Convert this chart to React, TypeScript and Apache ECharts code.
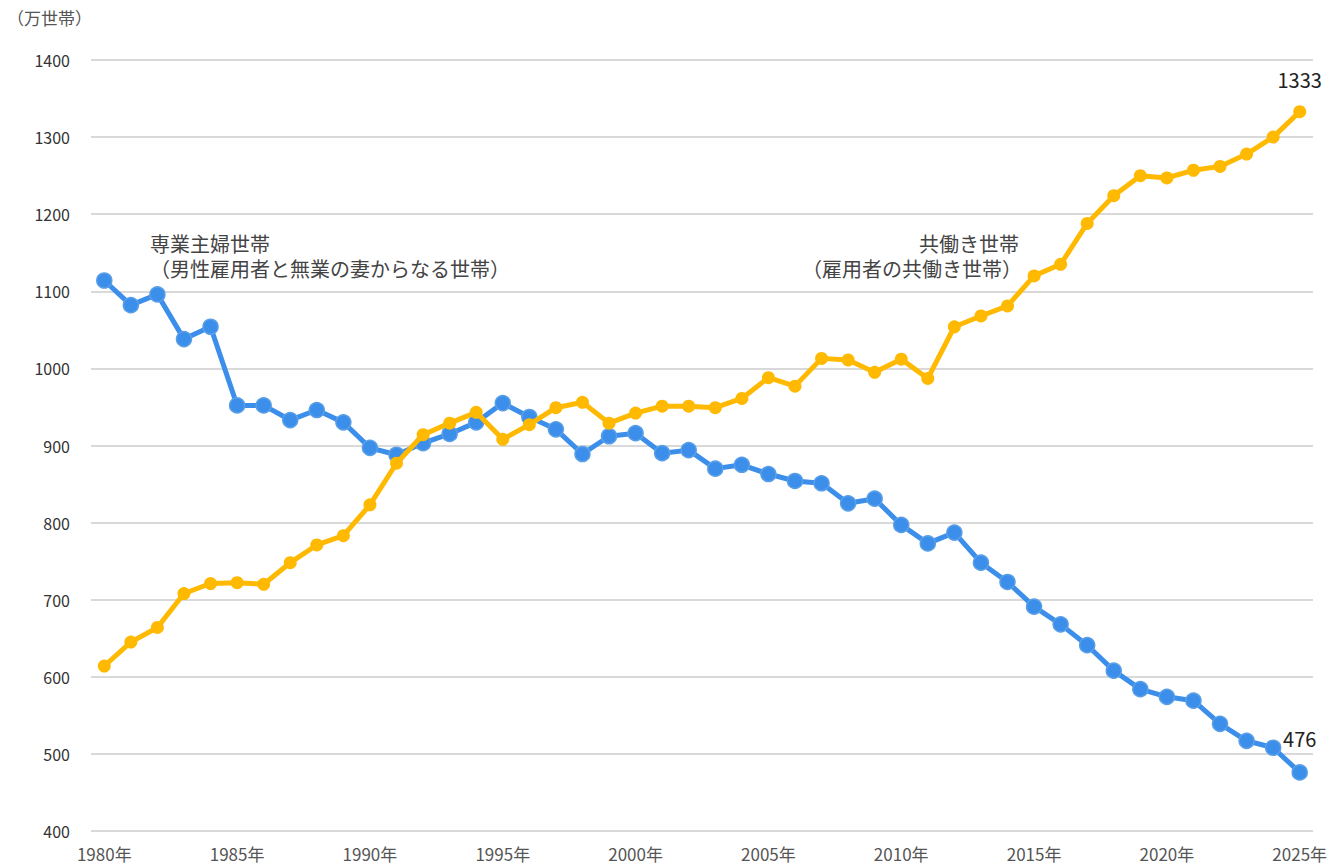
import React, { useEffect, useRef } from "react";
import * as echarts from "echarts";

const years: string[] = [
  "1980年", "1981年", "1982年", "1983年", "1984年", "1985年", "1986年", "1987年", "1988年", "1989年",
  "1990年", "1991年", "1992年", "1993年", "1994年", "1995年", "1996年", "1997年", "1998年", "1999年",
  "2000年", "2001年", "2002年", "2003年", "2004年", "2005年", "2006年", "2007年", "2008年", "2009年",
  "2010年", "2011年", "2012年", "2013年", "2014年", "2015年", "2016年", "2017年", "2018年", "2019年",
  "2020年", "2021年", "2022年", "2023年", "2024年", "2025年",
];

// 専業主婦世帯（男性雇用者と無業の妻からなる世帯）
const housewife: number[] = [
  1114, 1082, 1096, 1038, 1054, 952, 952, 933, 946, 930,
  897, 888, 903, 915, 930, 955, 937, 921, 889, 912,
  916, 890, 894, 870, 875, 863, 854, 851, 825, 831,
  797, 773, 787, 748, 723, 691, 668, 641, 608, 584,
  574, 569, 539, 517, 508, 476,
];

// 共働き世帯（雇用者の共働き世帯）
const dualIncome: number[] = [
  614, 645, 664, 708, 721, 722, 720, 748, 771, 783,
  823, 877, 914, 929, 943, 908, 927, 949, 956, 929,
  942, 951, 951, 949, 961, 988, 977, 1013, 1011, 995,
  1012, 987, 1054, 1068, 1081, 1120, 1135, 1188, 1224, 1250,
  1247, 1257, 1262, 1278, 1300, 1333,
];

const yMin = 400;
const yMax = 1400;
const yStep = 100;

const FONT = "'Noto Sans CJK JP', 'Noto Sans', sans-serif";

export default function App() {
  const ref = useRef<HTMLDivElement>(null);

  useEffect(() => {
    if (!ref.current) return;
    const chart = echarts.init(ref.current, null, { renderer: "svg" });
    const last = years.length - 1;

    const lastLabel = (color: string) => ({
      show: true,
      position: "top",
      distance: 16,
      color,
      fontSize: 20,
      fontFamily: FONT,
      formatter: (p: any) => (p.dataIndex === last ? String(p.value) : ""),
    });

    const note = (text: string) => ({
      text,
      fill: "#444444",
      font: `20px ${FONT}`,
      lineHeight: 20,
    });

    chart.setOption({
      animation: false,
      backgroundColor: "#ffffff",
      textStyle: { fontFamily: FONT },
      grid: { left: 91, right: 25, top: 60, bottom: 37, containLabel: false },
      xAxis: {
        type: "category",
        data: years,
        boundaryGap: true,
        axisLine: { show: false },
        axisTick: { show: false },
        axisLabel: {
          interval: 4,
          color: "#555555",
          fontSize: 17,
          lineHeight: 17,
          margin: 14,
          fontFamily: FONT,
        },
        splitLine: { show: false },
      },
      yAxis: {
        type: "value",
        min: yMin,
        max: yMax,
        interval: yStep,
        axisLine: { show: false },
        axisTick: { show: false },
        axisLabel: {
          color: "#333333",
          fontSize: 16,
          margin: 21,
          fontFamily: FONT,
          formatter: (v: number) => String(v),
        },
        splitLine: { lineStyle: { color: "#d9d9d9", width: 2 } },
      },
      series: [
        {
          name: "専業主婦世帯",
          type: "line",
          data: housewife,
          symbol: "circle",
          symbolSize: 15,
          lineStyle: { color: "#3b8eea", width: 5 },
          itemStyle: { color: "#3b8eea", borderColor: "#5a9fe6", borderWidth: 1.5 },
          label: lastLabel("#222222"),
          z: 3,
        },
        {
          name: "共働き世帯",
          type: "line",
          data: dualIncome,
          symbol: "circle",
          symbolSize: 13,
          lineStyle: { color: "#ffb900", width: 5 },
          itemStyle: { color: "#ffb900" },
          label: lastLabel("#222222"),
          z: 4,
        },
      ],
      graphic: [
        {
          type: "text",
          left: 7,
          top: 9,
          style: { text: "（万世帯）", fill: "#555555", font: `17px ${FONT}` },
        },
        { type: "text", left: 150, top: 233, style: note("専業主婦世帯") },
        { type: "text", left: 150, top: 258, style: note("（男性雇用者と無業の妻からなる世帯）") },
        { type: "text", right: 1338 - 1019, top: 233, style: note("共働き世帯") },
        { type: "text", right: 1338 - 1022, top: 258, style: note("（雇用者の共働き世帯）") },
      ],
    });

    return () => chart.dispose();
  }, []);

  return (
    <div
      ref={ref}
      style={{ position: "fixed", left: 0, top: 0, width: 1338, height: 868, background: "#fff" }}
    />
  );
}
